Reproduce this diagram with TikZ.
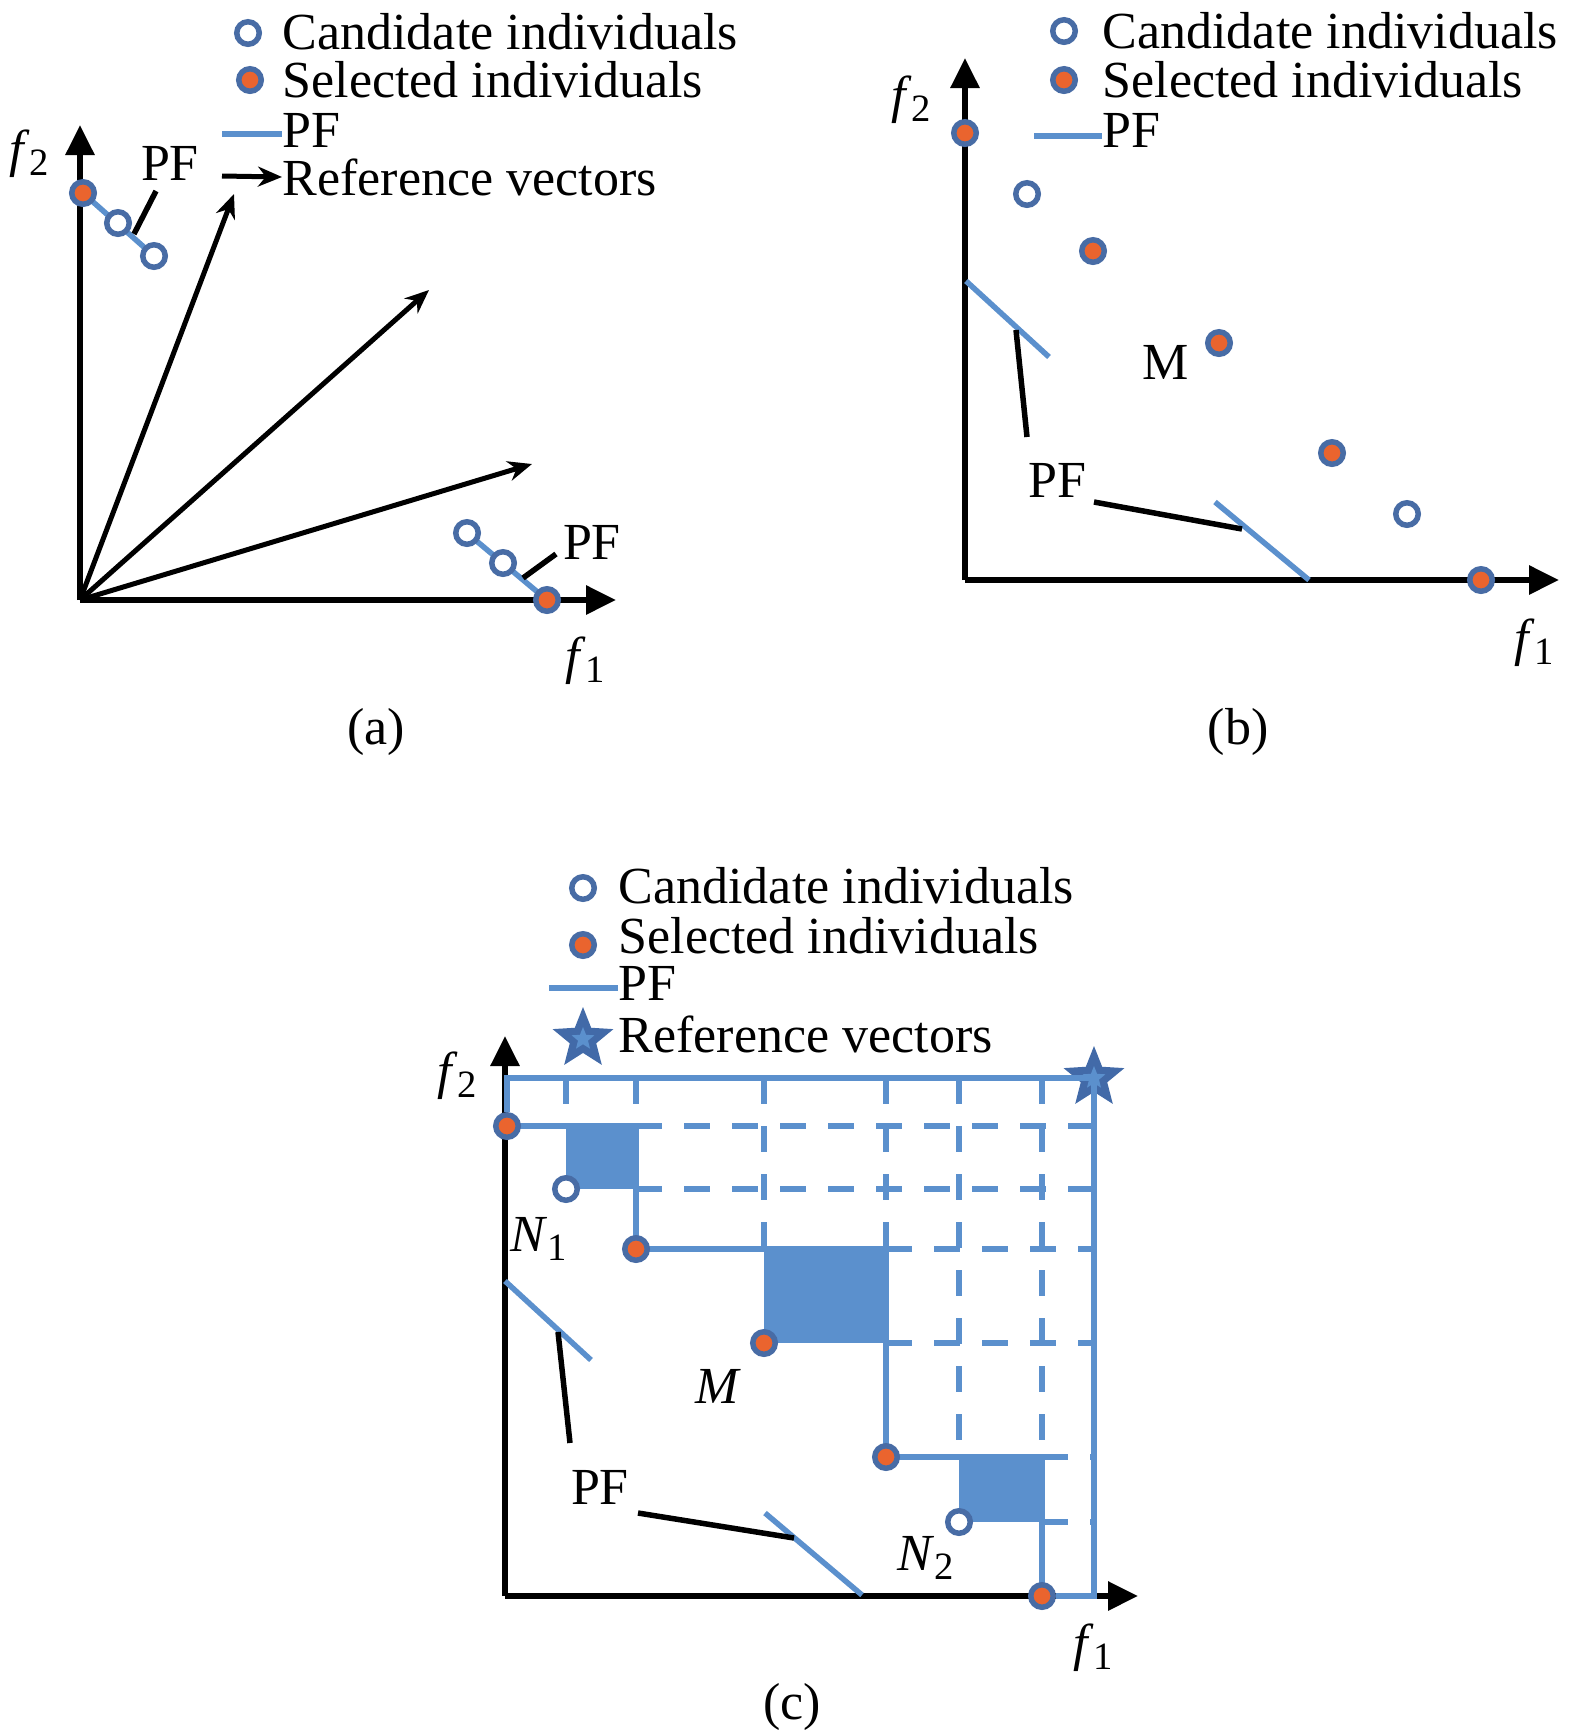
\documentclass[tikz,border=0pt]{standalone}
\usepackage{fontspec}
\setmainfont{Liberation Serif}
\usepackage{tikz}
\usetikzlibrary{arrows.meta,shapes.geometric,backgrounds,positioning}
\definecolor{pfblue}{RGB}{91,144,205}
\definecolor{dotblue}{RGB}{72,108,165}
\definecolor{dotorange}{RGB}{234,100,46}
\definecolor{starblue}{RGB}{66,106,168}
\newcommand\lowidx[1]{\raisebox{-0.35ex}{\fontsize{11}{12}\selectfont #1}}

\begin{document}
\begin{tikzpicture}[x=0.1mm,y=-0.1mm,font=\fontsize{14.8}{17}\selectfont,
  cand node/.style={circle,draw=dotblue,line width=0.55mm,fill=white,inner sep=0pt,minimum size=2.25mm},
  sel node/.style={cand node,fill=dotorange},
  text node/.style={inner sep=0pt,anchor=west},
  pf line/.style={draw=pfblue,line width=0.55mm},
  grid line/.style={pf line,dash pattern=on 2.6mm off 2.2mm},
  leader/.style={draw=black,line width=0.55mm},
  axis/.style={-{Triangle[length=3mm,width=2.8mm]},line width=0.6mm},
  vec/.style={-{Stealth[length=2.4mm,width=2mm]},line width=0.5mm},
  star node/.style={star,star points=5,star point ratio=2.3,fill=starblue,inner sep=0pt,minimum size=6.4mm}]
  \useasboundingbox (0,0) rectangle (1575,1730);

  % (a)
  \coordinate (oa) at (80,600);
  \coordinate (ya) at (80,125);
  \coordinate (xa) at (616,600);
  \coordinate (va1) at (234,194);
  \coordinate (va2) at (429,290);
  \coordinate (va3) at (532,464);
  \draw[axis] (oa) -- (ya);
  \draw[axis] (oa) -- (xa);
  \foreach \v in {va1,va2,va3}
    \draw[vec] (oa) -- (\v);
  \node[sel node] (a1) at (83,193) {};
  \node[cand node] (a2) at (118,223) {};
  \node[cand node] (a3) at (154,256) {};
  \node[cand node] (a4) at (467,533) {};
  \node[cand node] (a5) at (503,563) {};
  \node[sel node] (a6) at (547,600) {};
  \begin{scope}[on background layer]
    \draw[pf line] (a1.center) -- (a3.center);
    \draw[pf line] (a4.center) -- (a6.center);
  \end{scope}
  \node (pfa1) at (170,163) {PF};
  \node (pfa2) at (592,542) {PF};
  \coordinate (la1) at (156,191);
  \coordinate (la2) at (134,234);
  \coordinate (la3) at (556,554);
  \coordinate (la4) at (523,578);
  \draw[leader] (la1) -- (la2);
  \draw[leader] (la3) -- (la4);
  \node (f2a) at (29,154) {\textit{f}\lowidx{2}};
  \node (f1a) at (585,661) {\textit{f}\lowidx{1}};
  \node (capa) at (376,732) {(a)};
  \node[cand node] (lca) at (248,33) {};
  \node[sel node] (lsa) at (250,80) {};
  \node[text node] (tca) at (282,32) {Candidate individuals};
  \node[text node] (tsa) at (282,80) {Selected individuals};
  \node[text node] (tpa) at (282,130) {PF};
  \node[text node] (tva) at (282,177) {Reference vectors};
  \coordinate (lpa) at (222,134);
  \coordinate (lva) at (222,176);
  \draw[pf line] (lpa) -- (lpa -| tpa.west);
  \draw[vec] (lva) -- (tva.west);

  % (b)
  \coordinate (ob) at (965,580);
  \coordinate (yb) at (965,58);
  \coordinate (xb) at (1559,580);
  \draw[axis] (ob) -- (yb);
  \draw[axis] (ob) -- (xb);
  \node[sel node] (b1) at (965,133) {};
  \node[cand node] (b2) at (1027,194) {};
  \node[sel node] (b3) at (1093,251) {};
  \node[sel node] (b4) at (1219,343) {};
  \node[sel node] (b5) at (1332,453) {};
  \node[cand node] (b6) at (1407,514) {};
  \node[sel node] (b7) at (1481,580) {};
  \node (mb) at (1166,362) {M};
  \coordinate (pb1) at (966,281);
  \coordinate (pb2) at (1049,357);
  \coordinate (pb3) at (1215,502);
  \coordinate (pb4) at (1309,580);
  \draw[pf line] (pb1) -- (pb2);
  \draw[pf line] (pb3) -- (pb4);
  \node (pfb) at (1057,480) {PF};
  \coordinate (lb1) at (1016,330);
  \coordinate (lb2) at (1027,437);
  \coordinate (lb3) at (1094,502);
  \coordinate (lb4) at (1242,529);
  \draw[leader] (lb1) -- (lb2);
  \draw[leader] (lb3) -- (lb4);
  \node (f2b) at (911,100) {\textit{f}\lowidx{2}};
  \node (f1b) at (1534,643) {\textit{f}\lowidx{1}};
  \node (capb) at (1238,732) {(b)};
  \node[cand node] (lcb) at (1064,31) {};
  \node[sel node] (lsb) at (1064,80) {};
  \node[text node] (tcb) at (1102,31) {Candidate individuals};
  \node[text node] (tsb) at (1102,80) {Selected individuals};
  \node[text node] (tpb) at (1102,130) {PF};
  \coordinate (lpb) at (1034,136);
  \draw[pf line] (lpb) -- (lpb -| tpb.west);

  % (c)
  \coordinate (oc) at (505,1596);
  \coordinate (yc) at (505,1036);
  \coordinate (xc) at (1138,1596);
  \draw[axis] (oc) -- (yc);
  \draw[axis] (oc) -- (xc);
  \node[sel node] (c1) at (507,1126) {};
  \node[cand node] (n1) at (566,1189) {};
  \node[sel node] (c3) at (636,1249) {};
  \node[sel node] (m) at (764,1343) {};
  \node[sel node] (c5) at (886,1457) {};
  \node[cand node] (n2) at (959,1522) {};
  \node[sel node] (c7) at (1042,1596) {};
  \node[star node] (rv) at (1094,1078) {};
  \node[star node,fill=pfblue,minimum size=2.4mm] at (rv) {};
  \begin{scope}[on background layer]
    \fill[pfblue] (n1.center |- c1.center) rectangle (c3.center |- n1.center);
    \fill[pfblue] (m.center |- c3.center) rectangle (c5.center |- m.center);
    \fill[pfblue] (n2.center |- c5.center) rectangle (c7.center |- n2.center);
    \draw[pf line] (c1.center) -| (c3.center) -| (c5.center) -| (c7.center);
    \foreach \a/\b in {n1/c1,c3/c1,m/c3,c5/c3,n2/c5,c7/c5}
      \draw[grid line] (\a.center |- rv.center) -- (\a.center |- \b.center);
    \foreach \a/\b in {c1/c3,n1/c3,c3/c5,m/c5,c5/c7,n2/c7}
      \draw[grid line] (\b.center |- \a.center) -- (rv.center |- \a.center);
  \end{scope}
  \draw[pf line] (c1.north) |- (rv.center) |- (c7.east);
  \node (n1l) at (539,1239) {\textit{N}\lowidx{1}};
  \node (ml) at (718,1386) {\textit{M}};
  \node (n2l) at (926,1558) {\textit{N}\lowidx{2}};
  \coordinate (pc1) at (505,1281);
  \coordinate (pc2) at (591,1360);
  \coordinate (pc3) at (765,1513);
  \coordinate (pc4) at (862,1595);
  \draw[pf line] (pc1) -- (pc2);
  \draw[pf line] (pc3) -- (pc4);
  \node (pfc) at (600,1487) {PF};
  \coordinate (lc1) at (558,1332);
  \coordinate (lc2) at (570,1443);
  \coordinate (lc3) at (638,1513);
  \coordinate (lc4) at (794,1538);
  \draw[leader] (lc1) -- (lc2);
  \draw[leader] (lc3) -- (lc4);
  \node (f2c) at (457,1076) {\textit{f}\lowidx{2}};
  \node (f1c) at (1093,1648) {\textit{f}\lowidx{1}};
  \node (capc) at (792,1707) {(c)};
  \node[cand node] (lcc) at (583,888) {};
  \node[sel node] (lsc) at (583,945) {};
  \node[star node] (lrc) at (583,1039) {};
  \node[star node,fill=pfblue,minimum size=2.4mm] at (lrc) {};
  \node[text node] (tcc) at (618,886) {Candidate individuals};
  \node[text node] (tsc) at (618,936) {Selected individuals};
  \node[text node] (tpc) at (618,983) {PF};
  \node[text node] (tvc) at (618,1034) {Reference vectors};
  \coordinate (lpc) at (549,988);
  \draw[pf line] (lpc) -- (lpc -| tpc.west);
\end{tikzpicture}
\end{document}
